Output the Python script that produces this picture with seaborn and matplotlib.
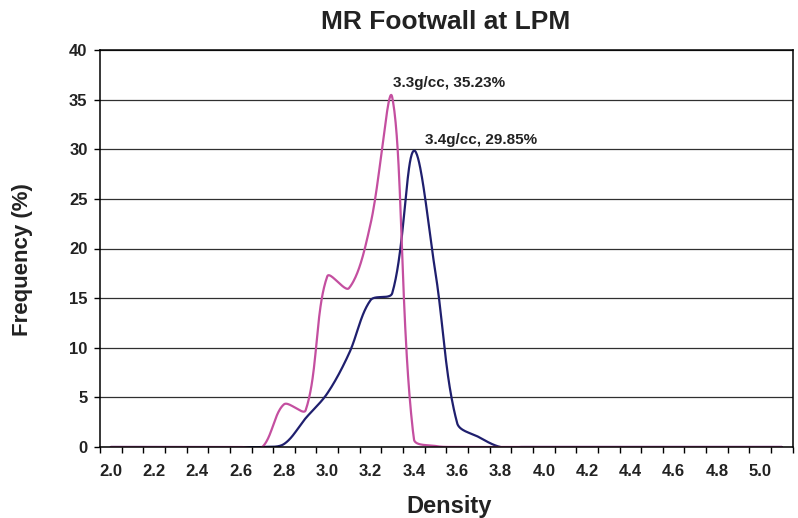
import numpy as np
import pandas as pd
import matplotlib
matplotlib.use("Agg")
import matplotlib.pyplot as plt
import seaborn as sns

# ---- data ----
densities = [f"{2.0 + 0.1 * i:.1f}" for i in range(32)]  # 2.0 ... 5.1 categories
mr_33 = [0, 0, 0, 0, 0, 0, 0, 0, 4.3, 3.7, 17.2, 16.0, 22.5, 35.23, 0.8, 0.1,
         0, 0, 0, 0, 0, 0, 0, 0, 0, 0, 0, 0, 0, 0, 0, 0]
mr_34 = [0, 0, 0, 0, 0, 0, 0, 0, 0.3, 2.9, 5.4, 9.4, 14.8, 15.5, 29.85, 17.5,
         2.4, 1.0, 0, 0, 0, 0, 0, 0, 0, 0, 0, 0, 0, 0, 0, 0]
tick_labels = densities[::2][:16]  # 2.0, 2.2, ..., 5.0
label_33 = "3.3g/cc, 35.23%"
label_34 = "3.4g/cc, 29.85%"

PINK = "#C44FA0"
NAVY = "#1F1F6E"


def smooth(xs, ys, sx=21.65, sy=9.925, n=40):
    """Excel-like smoothed line rendering (Bezier through every point)."""
    P = np.column_stack([np.asarray(xs, float) * sx, np.asarray(ys, float) * sy])
    m = len(P)
    out = []
    for i in range(m - 1):
        p0, p1 = P[i], P[i + 1]
        pm = P[i - 1] if i > 0 else P[i]
        pp = P[i + 2] if i + 2 < m else P[i + 1]
        t0 = p1 - pm
        din = np.linalg.norm(p0 - pm)
        dout = np.linalg.norm(p1 - p0)
        s0 = dout / (din + dout) / 3 if (din + dout) > 0 else 0
        c1 = p0 + t0 * s0 if i > 0 else p0 + (p1 - p0) / 3
        t1 = pp - p0
        din1 = np.linalg.norm(p1 - p0)
        dout1 = np.linalg.norm(pp - p1)
        s1 = din1 / (din1 + dout1) / 3 if (din1 + dout1) > 0 else 0
        c2 = p1 - t1 * s1 if i + 2 < m else p1 - (p1 - p0) / 3
        t = np.linspace(0, 1, n, endpoint=(i == m - 2))[:, None]
        seg = ((1 - t) ** 3) * p0 + 3 * ((1 - t) ** 2) * t * c1 + 3 * (1 - t) * t ** 2 * c2 + t ** 3 * p1
        out.append(seg)
    Q = np.vstack(out)
    return Q[:, 0] / sx, Q[:, 1] / sy


sns.set_theme(style="white")
plt.rcParams["font.family"] = ["Liberation Sans", "DejaVu Sans"]
plt.rcParams["font.weight"] = "bold"

fig = plt.figure(figsize=(7.98, 5.18), dpi=100)
ax = fig.add_axes([100 / 798, 71 / 518, 692.7 / 798, 397 / 518])

idx = np.arange(len(densities))
frames = []
for name, vals in [("3.3", mr_33), ("3.4", mr_34)]:
    sx_, sy_ = smooth(idx, vals)
    frames.append(pd.DataFrame({"x": sx_, "y": sy_, "series": name}))
df = pd.concat(frames, ignore_index=True)

for name, col in [("3.4", NAVY), ("3.3", PINK)]:
    sns.lineplot(data=df[df.series == name], x="x", y="y", sort=False,
                 estimator=None, color=col, linewidth=1.6, ax=ax, legend=False)

ax.set_xlim(-0.5, len(densities) - 0.5)
ax.set_ylim(0, 40)

ax.set_yticks(np.arange(0, 41, 5))
ax.yaxis.grid(True, color="#303030", linewidth=0.9)
ax.xaxis.grid(False)
ax.set_axisbelow(True)

ax.set_xticks(idx[::2][:16])
ax.set_xticklabels(tick_labels)
ax.set_xticks(np.arange(-0.5, len(densities)), minor=True)
ax.tick_params(axis="x", which="major", length=0, pad=12, labelsize=12,
               labelcolor="#222222")
ax.tick_params(axis="x", which="minor", length=4, width=1, color="black",
               direction="out", bottom=True)
ax.tick_params(axis="y", which="major", length=4, width=1, color="black",
               direction="out", left=True, pad=5, labelsize=12,
               labelcolor="#222222")
for lab in ax.get_xticklabels() + ax.get_yticklabels():
    lab.set_fontweight("bold")

for s in ax.spines.values():
    s.set_visible(True)
    s.set_color("black")
    s.set_linewidth(1.1)

ax.set_xlabel("")
ax.set_ylabel("")

ax.text(13.02, 36.3, label_33, ha="left", va="baseline", fontsize=11,
        fontweight="bold", color="#222222")
ax.text(14.5, 30.5, label_34, ha="left", va="baseline", fontsize=11,
        fontweight="bold", color="#222222")

fig.text(446 / 798, 1 - 29 / 518, "MR Footwall at LPM", ha="center",
         va="baseline", fontsize=19, fontweight="bold", color="#222222")
fig.text(449 / 798, 1 - 513 / 518, "Density", ha="center", va="baseline",
         fontsize=17, fontweight="bold", color="#222222")
fig.text(23 / 798, 1 - 260 / 518, "Frequency (%)", ha="center", va="center",
         rotation=90, fontsize=16, fontweight="bold", color="#222222")

fig.savefig("out.png", dpi=100)
